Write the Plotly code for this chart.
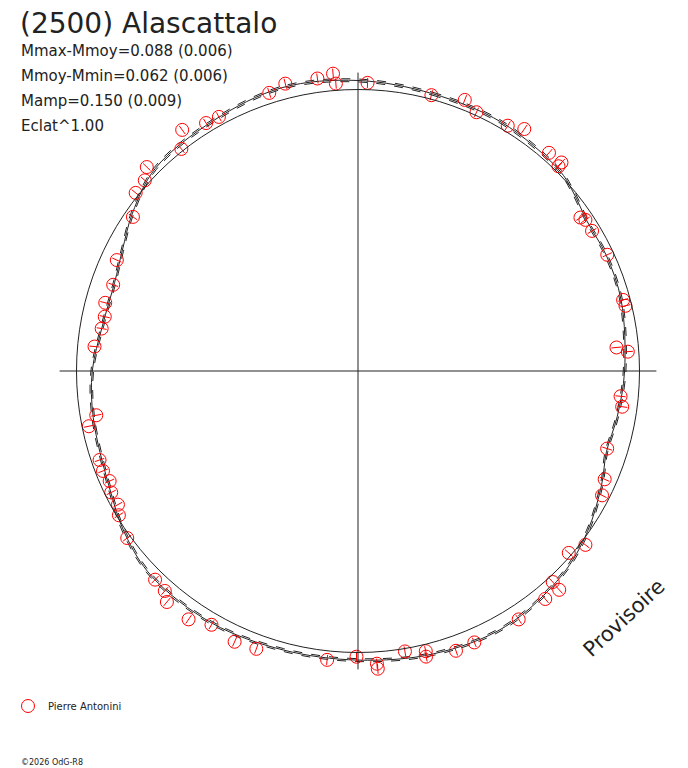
import numpy as np
import plotly.graph_objects as go

# observed points: rotation phase (degrees, clockwise from top) and relative radius
phase_deg = [1.9, 14.9, 21.5, 24.6, 31.4, 34.5, 41.2, 44.3, 44.4, 55.4, 56.4, 59.1, 65.0, 75.0, 76.3,
             84.8, 85.9, 95.5, 97.7, 107.3, 113.7, 117.0, 127.4, 130.8, 137.3, 137.4, 140.6, 147.1,
             156.8, 160.7, 166.6, 166.4, 170.5, 176.2, 176.3, 180.3, 186.1, 200.1, 204.5, 210.0,
             214.3, 219.6, 221.3, 224.2, 234.1, 238.9, 240.9, 243.8, 246.1, 248.6, 251.0, 258.4,
             260.4, 275.3, 279.4, 282.1, 285.1, 289.4, 294.7, 304.4, 308.7, 311.8, 314.0, 321.5,
             323.9, 328.5, 331.3, 342.3, 345.8, 352.1, 355.2, 355.6]
rel_flux = [1.024, 1.014, 1.035, 1.011, 1.021, 1.043, 1.030, 1.035, 1.018, 0.960, 0.970, 0.969, 0.977, 0.975, 0.978,
            0.922, 0.961, 0.937, 0.947, 0.927, 0.957, 0.973, 1.017, 0.989, 1.020, 1.056, 1.048, 1.051,
            1.049, 1.053, 1.043, 1.024, 1.010, 1.060, 1.042, 1.015, 1.032, 1.051, 1.057, 1.041,
            1.068, 1.065, 1.040, 1.034, 1.012, 0.992, 0.976, 0.977, 0.965, 0.973, 0.971, 0.976,
            0.943, 0.940, 0.923, 0.920, 0.930, 0.922, 0.943, 0.969, 1.012, 1.016, 1.043, 1.008,
            1.060, 1.033, 1.029, 1.037, 1.053, 1.049, 1.060, 1.024]

# fitted light curve
fit_deg = [0, 15, 30, 45, 50, 57, 65, 75, 90, 100, 108, 115, 125, 135, 150, 165, 180, 195, 210,
           225, 235, 245, 260, 270, 280, 290, 297, 305, 315, 330, 345, 360]
fit_r = [1.032, 1.020, 1.020, 1.010, 0.995, 0.972, 0.973, 0.968, 0.947, 0.935, 0.928, 0.955, 0.995,
         1.025, 1.048, 1.040, 1.027, 1.026, 1.035, 1.034, 1.010, 0.975, 0.955, 0.944, 0.922, 0.920,
         0.940, 0.978, 1.018, 1.027, 1.042, 1.032]

err = 0.018      # half length of the radial error tick
spread = 0.005   # offset of the dashed envelope curves
axis_len = 1.06

th = np.radians(phase_deg)
r = np.array(rel_flux)
px = r * np.sin(th)
py = r * np.cos(th)

fth = np.radians(fit_deg)
fr = np.array(fit_r)

fig = go.Figure()

# envelope + fit
for k, dash in [(1 + spread, "dash"), (1 - spread, "dash"), (1.0, "solid")]:
    fig.add_trace(go.Scatter(x=fr * k * np.sin(fth), y=fr * k * np.cos(fth), mode="lines",
                             line=dict(color="#222", width=1, dash=dash, shape="spline", smoothing=1.0),
                             showlegend=False, hoverinfo="skip"))

# radial error ticks
ex, ey = [], []
for a, v in zip(th, r):
    ex += [(v - err) * np.sin(a), (v + err) * np.sin(a), None]
    ey += [(v - err) * np.cos(a), (v + err) * np.cos(a), None]
fig.add_trace(go.Scatter(x=ex, y=ey, mode="lines", line=dict(color="red", width=1),
                         showlegend=False, hoverinfo="skip"))

fig.add_trace(go.Scatter(x=px, y=py, mode="markers", name="Pierre Antonini",
                         marker=dict(symbol="circle-open", size=13, color="red", line=dict(width=1))))

# reference circle and cross
fig.add_shape(type="circle", x0=-1, y0=-1, x1=1, y1=1, line=dict(color="#222", width=1))
fig.add_shape(type="line", x0=-axis_len, x1=axis_len, y0=0, y1=0, line=dict(color="#222", width=1))
fig.add_shape(type="line", x0=0, x1=0, y0=-axis_len, y1=axis_len, line=dict(color="#222", width=1))

W, H = 688, 768
off = 8          # page body margin
unit = 281.5
cx, cy = 358 - off, 371 - off

def tx(x):
    return (x - off) / W

def ty(y):
    return 1 - (y - off) / H

font = "DejaVu Sans"
fig.add_annotation(text="(2500) Alascattalo", x=tx(18), y=ty(23), xref="paper", yref="paper",
                   xanchor="left", yanchor="middle", showarrow=False,
                   font=dict(family=font, size=28, color="#222"))
lines = ["Mmax-Mmoy=0.088 (0.006)", "Mmoy-Mmin=0.062 (0.006)", "Mamp=0.150 (0.009)", "Eclat^1.00"]
for i, t in enumerate(lines):
    fig.add_annotation(text=t, x=tx(19), y=ty(51 + 25 * i), xref="paper", yref="paper",
                       xanchor="left", yanchor="middle", showarrow=False,
                       font=dict(family=font, size=15, color="#222"))
fig.add_annotation(text="Provisoire", x=tx(624), y=ty(618), xref="paper", yref="paper",
                   xanchor="center", yanchor="middle", showarrow=False, textangle=-43,
                   font=dict(family=font, size=21, color="#222"))
fig.add_annotation(text="©2026 OdG-R8", x=tx(19), y=ty(762), xref="paper", yref="paper",
                   xanchor="left", yanchor="middle", showarrow=False,
                   font=dict(family=font, size=8, color="#222"))

fig.update_layout(
    width=W, height=H, margin=dict(l=0, r=0, t=0, b=0),
    plot_bgcolor="white", paper_bgcolor="white",
    xaxis=dict(range=[-cx / unit, (W - cx) / unit], visible=False, fixedrange=True),
    yaxis=dict(range=[-(H - cy) / unit, cy / unit], visible=False, fixedrange=True),
    showlegend=True,
    legend=dict(x=0, y=ty(706), xanchor="left", yanchor="middle", bgcolor="rgba(0,0,0,0)",
                font=dict(family=font, size=10, color="#222"), itemwidth=30),
)

fig.write_html("out.html")
